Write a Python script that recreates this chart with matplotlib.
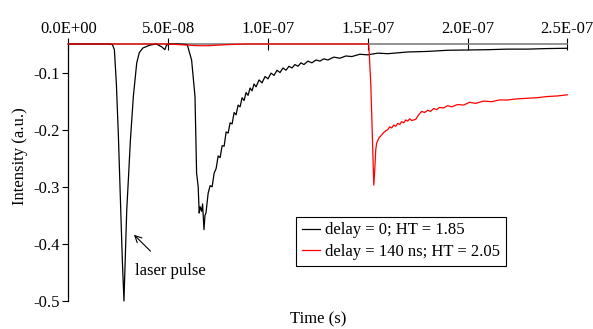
import matplotlib
matplotlib.use('Agg')
import matplotlib.pyplot as plt
from matplotlib.ticker import FuncFormatter

# times in ns, intensity in a.u.
t_black = [0, 10, 20, 22, 23, 24, 25, 26, 27, 27.8, 28.5, 29.2, 30, 31, 32.5, 34.2,
           35.5, 37.3, 40.8, 44, 46.7, 48.3, 49, 50, 55, 59.5, 61.7, 63.4, 64.2, 65.0,
           65.5, 66.0, 66.7, 67.2, 67.9, 68.4, 68.9, 69.4,
           70.0, 71.0, 72.0, 73.0, 74.0, 75.0, 76.0, 77.0, 78.0, 79.0, 80.0, 81.0,
           82.0, 83.0, 84.0, 85.0, 86.0, 87.0, 88.0, 89.0, 90.0, 91.0, 92.0, 93.0,
           94.0, 95.5, 97.0, 98.5, 100.0, 101.5, 103.0, 104.5, 106.0, 107.5, 109.0,
           110.5, 112.0, 113.5, 115.0, 116.5, 118.0, 120.0, 122.0, 124.0, 126.0,
           128.0, 130.0, 133.0, 136.0, 139.0, 142.0, 146.0, 150.0, 155.0, 160.0,
           170.0, 180.0, 190.0, 200.0, 210.0, 220.0, 230.0, 240.0, 250.0]
i_black = [-0.050, -0.050, -0.050, -0.051, -0.060, -0.120, -0.210, -0.320, -0.430,
           -0.500, -0.420, -0.340, -0.288, -0.220, -0.142, -0.083, -0.065, -0.057,
           -0.052, -0.050, -0.055, -0.060, -0.053, -0.050, -0.050, -0.051, -0.078,
           -0.142, -0.276, -0.300, -0.346, -0.335, -0.343, -0.330, -0.375, -0.350,
           -0.346, -0.330,
           -0.311, -0.298, -0.300, -0.276, -0.268, -0.246, -0.249, -0.228, -0.229,
           -0.204, -0.206, -0.188, -0.190, -0.170, -0.174, -0.157, -0.160, -0.144,
           -0.149, -0.135, -0.140, -0.127, -0.132, -0.120, -0.125, -0.113, -0.118,
           -0.107, -0.111, -0.101, -0.105, -0.096, -0.100, -0.092, -0.096, -0.089,
           -0.092, -0.086, -0.089, -0.083, -0.086, -0.080, -0.083, -0.078, -0.080,
           -0.076, -0.078, -0.073, -0.075, -0.071, -0.072, -0.068, -0.069, -0.066,
           -0.067, -0.064, -0.063, -0.061, -0.0605, -0.060, -0.059, -0.059, -0.058,
           -0.0575]

t_red = [0, 50, 55, 60, 65, 70, 75, 80, 90, 150, 150.5, 151.5, 152.2, 153.0, 153.5,
         154.0, 154.4, 155.5, 157.0, 158, 159, 160, 161, 162, 163, 164, 165, 166,
         167, 168, 169, 170, 171, 172, 174, 175.5, 177, 178.5, 180, 181.5, 183,
         184.5, 186, 188, 190, 192, 195, 198, 201, 204, 208, 212, 216, 220, 225,
         230, 235, 240, 245, 250]
i_red = [-0.050, -0.050, -0.051, -0.052, -0.053, -0.053, -0.052, -0.051, -0.050,
         -0.050, -0.052, -0.120, -0.200, -0.297, -0.270, -0.235, -0.224, -0.215,
         -0.209, -0.205, -0.202, -0.200, -0.195, -0.197, -0.192, -0.194, -0.189,
         -0.191, -0.186, -0.188, -0.183, -0.185, -0.181, -0.184, -0.182, -0.174,
         -0.168, -0.170, -0.166, -0.168, -0.163, -0.165, -0.161, -0.162, -0.158,
         -0.160, -0.156, -0.157, -0.152, -0.154, -0.150, -0.151, -0.148, -0.148,
         -0.146, -0.145, -0.144, -0.142, -0.141, -0.139]

labels = ['delay = 0; HT = 1.85', 'delay = 140 ns; HT = 2.05']
x_ticks = [0, 5e-8, 1e-7, 1.5e-7, 2e-7, 2.5e-7]
y_ticks = [-0.5, -0.4, -0.3, -0.2, -0.1]

plt.rcParams['font.family'] = 'Liberation Serif'
plt.rcParams['axes.unicode_minus'] = False
fs = 12

fig = plt.figure(figsize=(5.93, 3.29), dpi=100)
ax = fig.add_axes([0.1155, 0.0851, 0.8412, 0.7812])

ax.plot([t * 1e-9 for t in t_black], i_black, color='black', lw=0.9,
        label=labels[0], zorder=3, clip_on=False)
ax.plot([t * 1e-9 for t in t_red], i_red, color='red', lw=0.9,
        label=labels[1], zorder=3, clip_on=False)

ax.set_xlim(0, 2.5e-7)
ax.set_ylim(-0.5, -0.05)
ax.xaxis.tick_top()
ax.set_xticks(x_ticks)
ax.xaxis.set_major_formatter(FuncFormatter(lambda v, p: f'{v:.1E}'))
ax.set_yticks(y_ticks)
ax.yaxis.set_major_formatter(FuncFormatter(lambda v, p: f'{v:.1f}'))
ax.tick_params(axis='x', direction='inout', length=8, width=0.8, labelsize=fs, pad=1)
ax.tick_params(axis='y', direction='out', length=4, width=0.8, labelsize=fs, pad=2)

ax.spines['bottom'].set_visible(False)
ax.spines['right'].set_visible(False)
ax.spines['top'].set_color('#808080')
ax.spines['top'].set_linewidth(1.2)
ax.spines['left'].set_linewidth(0.9)

ax.annotate('laser pulse', xy=(3.28e-8, -0.384), xytext=(5.1e-8, -0.447),
            ha='center', va='center', fontsize=fs,
            arrowprops=dict(arrowstyle='->', color='black', lw=0.8,
                            shrinkA=9, shrinkB=0))

leg = ax.legend(loc='lower left', bbox_to_anchor=(0.456, 0.136), fontsize=fs,
                frameon=True, fancybox=False, edgecolor='black', framealpha=1,
                handlelength=1.1, handletextpad=0.3, borderpad=0.35, labelspacing=0.35,
                borderaxespad=0)
leg.get_frame().set_linewidth(0.8)

fig.text(0.034, 0.525, 'Intensity (a.u.)', rotation=90, ha='center', va='center', fontsize=fs)
fig.text(0.536, 0.006, 'Time (s)', ha='center', va='bottom', fontsize=fs)

fig.savefig('out.png', dpi=100)
